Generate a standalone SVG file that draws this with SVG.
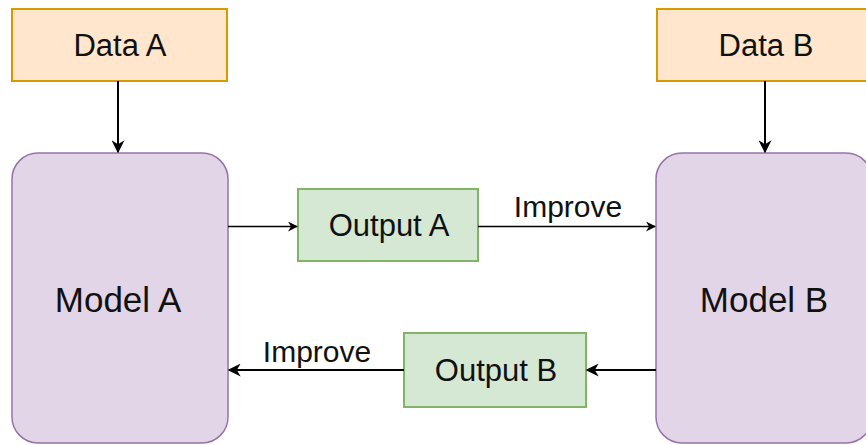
<svg xmlns="http://www.w3.org/2000/svg" width="866" height="445" viewBox="0 0 866 445">
  <style>
    .data { fill: #ffe6cc; stroke: #d79b00; stroke-width: 2; }
    .model { fill: #e1d5e7; stroke: #9673a6; stroke-width: 1.5; }
    .out { fill: #d5e8d4; stroke: #82b366; stroke-width: 2; }
    text { font-family: "Liberation Sans", Arial, sans-serif; fill: #111; text-anchor: middle; dominant-baseline: central; }
    .lbl { font-size: 31px; }
    .big { font-size: 35px; }
    .edge { font-size: 30px; dominant-baseline: auto; }
    .wire { fill: none; stroke: #000; }
  </style>
  <defs>
    <marker id="arrow" viewBox="0 0 10 10" refX="9" refY="5" markerWidth="10" markerHeight="10" markerUnits="userSpaceOnUse" orient="auto">
      <path d="M0,0 L10,5 L0,10 L3,5 Z" fill="#000"/>
    </marker>
    <marker id="arrowS" viewBox="0 0 10 10" refX="9" refY="5" markerWidth="13" markerHeight="13" markerUnits="userSpaceOnUse" orient="auto">
      <path d="M0,0 L10,5 L0,10 L3,5 Z" fill="#000"/>
    </marker>
  </defs>

  <g id="data-a">
    <rect class="data" x="12" y="9" width="215" height="72"/>
    <text class="lbl" x="120" y="45">Data A</text>
  </g>
  <g id="data-b">
    <rect class="data" x="657" y="9" width="215" height="72"/>
    <text class="lbl" x="766" y="45">Data B</text>
  </g>
  <g id="model-a">
    <rect class="model" x="12" y="153" width="216" height="290" rx="26" ry="26"/>
    <text class="big" x="118" y="299">Model A</text>
  </g>
  <g id="model-b">
    <rect class="model" x="656" y="153" width="216" height="290" rx="26" ry="26"/>
    <text class="big" x="764" y="299">Model B</text>
  </g>
  <g id="output-a">
    <rect class="out" x="298" y="189" width="180" height="72"/>
    <text class="lbl" x="389" y="225">Output A</text>
  </g>
  <g id="output-b">
    <rect class="out" x="404" y="333" width="182" height="74"/>
    <text class="lbl" x="496" y="370">Output B</text>
  </g>

  <g id="connectors">
    <path class="wire" stroke-width="2" d="M118,81 V152" marker-end="url(#arrowS)"/>
    <path class="wire" stroke-width="2" d="M765,81 V152" marker-end="url(#arrowS)"/>
    <path class="wire" stroke-width="1.3" d="M228,226.5 H297" marker-end="url(#arrow)"/>
    <path class="wire" stroke-width="1.3" d="M478,226.5 H655" marker-end="url(#arrow)"/>
    <text class="edge" x="568" y="217">Improve</text>
    <path class="wire" stroke-width="2" d="M656,370 H587" marker-end="url(#arrowS)"/>
    <path class="wire" stroke-width="2" d="M404,370 H229" marker-end="url(#arrowS)"/>
    <text class="edge" x="317" y="362">Improve</text>
  </g>
</svg>
